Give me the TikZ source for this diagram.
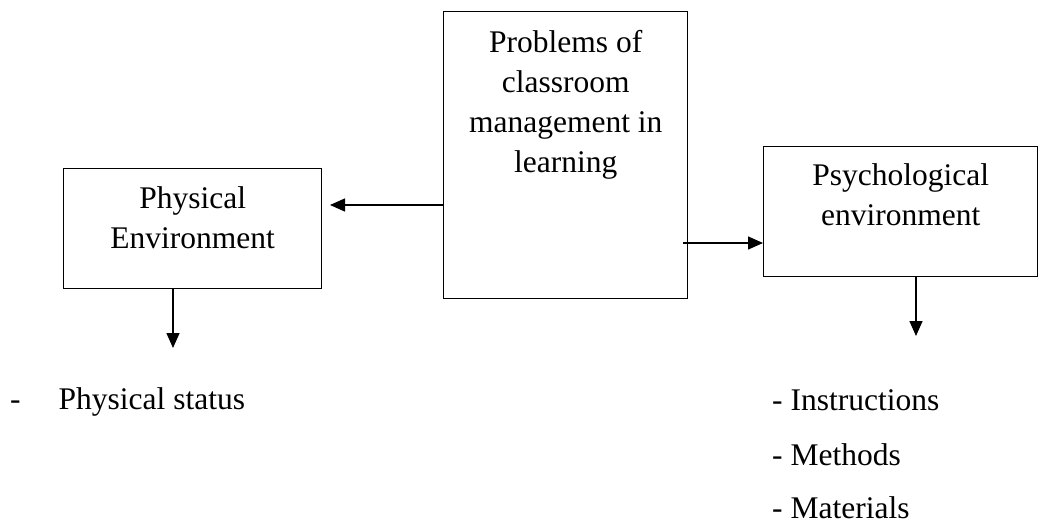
\documentclass[tikz,border=0pt]{standalone}
\usepackage{fontspec}
\setmainfont{Liberation Serif}
\usetikzlibrary{arrows.meta,positioning}
\tikzset{
  box/.style={draw, line width=1.4pt, inner sep=0pt, anchor=north west},
  boxtext/.style={align=center, inner sep=0pt, anchor=north, font=\fontsize{31.5}{40}\selectfont},
  itemtext/.style={inner sep=0pt, anchor=base west, font=\fontsize{31.5}{40}\selectfont},
  arr/.style={line width=1.4pt, -{Triangle[length=15pt,width=13pt]}}
}
\begin{document}
\begin{tikzpicture}[x=1pt,y=-1pt]
\useasboundingbox (0,0) rectangle (1039,523);
% boxes
\node[box, minimum width=244pt, minimum height=287pt] (problem) at (443,11) {};
\node[box, minimum width=258pt, minimum height=120pt] (phys) at (63,168) {};
\node[box, minimum width=274pt, minimum height=130pt] (psych) at (763,146) {};
\node[boxtext, below=19.5pt of problem.north] (problemtxt) {Problems of\\classroom\\management in\\learning};
\node[boxtext, below=18.5pt of phys.north] (phystxt) {Physical\\Environment};
\node[boxtext, below=17.5pt of psych.north] (psychtxt) {Psychological\\environment};
% arrows
\coordinate (physin) at (330,205);
\coordinate (psychin) at (683,243);
\coordinate (physdown) at (173,348);
\coordinate (psychdown) at (916,336);
\draw[arr] (problem.west |- physin) -- (physin);
\draw[arr] (psychin) -- (psych.west |- psychin);
\draw[arr] (phys.south -| physdown) -- (physdown);
\draw[arr] (psych.south -| psychdown) -- (psychdown);
% lists
\node[itemtext] (physstatus) at (10,409) {-\hspace{38pt}Physical status};
\node[itemtext] (instr) at (772,410) {- Instructions};
\node[itemtext] (meth) at (772,465) {- Methods};
\node[itemtext] (mater) at (772,518) {- Materials};
\end{tikzpicture}
\end{document}
